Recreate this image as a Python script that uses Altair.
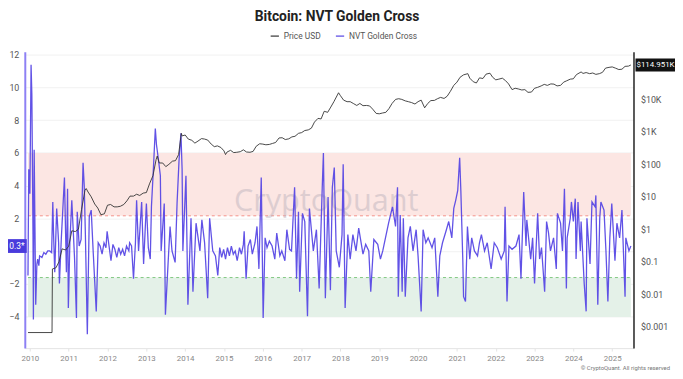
import altair as alt
import pandas as pd

# ---------------- data ----------------
nvt_years = [
    2009.95, 2009.97, 2010.00, 2010.03, 2010.05, 2010.08, 2010.09, 2010.11, 2010.13, 2010.15,
    2010.18, 2010.20, 2010.23, 2010.25, 2010.31, 2010.36, 2010.41, 2010.46, 2010.51, 2010.56,
    2010.59, 2010.61, 2010.64, 2010.69, 2010.74, 2010.76, 2010.81, 2010.89, 2010.92, 2010.94,
    2010.97, 2010.99, 2011.03, 2011.08, 2011.15, 2011.20, 2011.22, 2011.27, 2011.32, 2011.37,
    2011.40, 2011.43, 2011.48, 2011.53, 2011.58, 2011.63, 2011.71, 2011.76, 2011.81, 2011.86,
    2011.91, 2011.96, 2011.99, 2012.04, 2012.09, 2012.14, 2012.19, 2012.24, 2012.29, 2012.34,
    2012.39, 2012.44, 2012.49, 2012.55, 2012.57, 2012.62, 2012.67, 2012.72, 2012.75, 2012.80,
    2012.88, 2012.93, 2013.00, 2013.05, 2013.10, 2013.13, 2013.18, 2013.23, 2013.26, 2013.31,
    2013.36, 2013.38, 2013.46, 2013.49, 2013.56, 2013.61, 2013.66, 2013.74, 2013.79, 2013.84,
    2013.89, 2013.92, 2013.94, 2014.02, 2014.07, 2014.15, 2014.20, 2014.28, 2014.38, 2014.43,
    2014.50, 2014.58, 2014.63, 2014.71, 2014.78, 2014.84, 2014.89, 2014.94, 2014.99, 2015.04,
    2015.09, 2015.14, 2015.19, 2015.24, 2015.29, 2015.34, 2015.40, 2015.45, 2015.50, 2015.52,
    2015.57, 2015.62, 2015.68, 2015.73, 2015.80, 2015.85, 2015.90, 2015.96, 2016.01, 2016.06,
    2016.11, 2016.17, 2016.24, 2016.31, 2016.36, 2016.44, 2016.49, 2016.57, 2016.62, 2016.69,
    2016.74, 2016.82, 2016.87, 2016.92, 2016.95, 2017.02, 2017.08, 2017.15, 2017.20, 2017.30,
    2017.38, 2017.45, 2017.53, 2017.56, 2017.61, 2017.68, 2017.74, 2017.79, 2017.84, 2017.89,
    2017.97, 2018.04, 2018.07, 2018.12, 2018.19, 2018.25, 2018.32, 2018.40, 2018.47, 2018.58,
    2018.65, 2018.73, 2018.78, 2018.86, 2018.96, 2019.03, 2019.09, 2019.16, 2019.24, 2019.34,
    2019.42, 2019.47, 2019.49, 2019.54, 2019.59, 2019.62, 2019.67, 2019.74, 2019.80, 2019.87,
    2019.95, 2020.00, 2020.08, 2020.13, 2020.20, 2020.26, 2020.36, 2020.43, 2020.51, 2020.56,
    2020.63, 2020.73, 2020.79, 2020.87, 2020.92, 2020.97, 2021.02, 2021.07, 2021.10, 2021.15,
    2021.17, 2021.22, 2021.27, 2021.33, 2021.38, 2021.45, 2021.53, 2021.58, 2021.63, 2021.71,
    2021.78, 2021.88, 2021.96, 2022.04, 2022.14, 2022.22, 2022.24, 2022.29, 2022.34, 2022.42,
    2022.52, 2022.60, 2022.65, 2022.72, 2022.78, 2022.80, 2022.90, 2022.95, 2023.00, 2023.08,
    2023.13, 2023.18, 2023.26, 2023.31, 2023.36, 2023.41, 2023.49, 2023.56, 2023.59, 2023.67,
    2023.72, 2023.77, 2023.82, 2023.84, 2023.92, 2023.95, 2024.00, 2024.05, 2024.07, 2024.12,
    2024.18, 2024.20, 2024.28, 2024.33, 2024.35, 2024.43, 2024.48, 2024.56, 2024.58, 2024.63,
    2024.68, 2024.71, 2024.79, 2024.84, 2024.89, 2024.94, 2024.99, 2025.07, 2025.12, 2025.19,
    2025.25, 2025.33, 2025.35, 2025.43, 2025.48,
]
nvt_values = [
    -1.5, 5.0, 3.5, 11.4, 9.6, 1.0, -4.2, 6.2, 1.5, -3.3,
    -0.8, -0.5, -0.9, -0.3, -0.4, -0.1, -0.2, 0.0, 0.0, -0.1,
    3.0, 1.0, -1.3, 2.6, 0.5, -2.0, 0.8, 4.5, 1.0, -1.3,
    3.8, -3.5, 0.5, 3.1, -0.4, -4.1, 2.4, 0.3, 0.7, 5.4,
    4.0, 1.0, -5.1, 2.1, 2.5, 0.0, -3.7, 0.5, 0.3, -0.2,
    0.5, 0.2, 1.2, 0.3, -0.6, 0.4, 0.1, -0.4, 0.2, -0.2,
    0.1, -0.3, 0.3, 0.0, 0.5, 0.3, -1.7, 0.5, 3.1, 0.0,
    3.0, -0.8, 2.9, 0.2, -0.5, 2.7, 5.0, 7.5, 6.5, 5.6,
    4.6, 0.0, 2.9, -3.9, -0.7, 1.5, 0.0, -0.7, 2.9, 5.5,
    7.2, 5.0, 0.0, 4.6, -3.3, 2.0, -2.5, 1.7, 0.0, 1.9,
    0.5, -2.9, 2.0, 0.0, -0.3, -1.5, 0.2, -0.4, 0.1, -0.5,
    0.2, -0.3, 0.3, -0.2, 0.0, -0.6, 0.2, -0.2, 0.4, 1.2,
    -1.7, 0.3, 0.7, -0.2, 0.5, 1.5, -1.1, 4.5, -4.1, 0.8,
    0.2, 0.6, 0.3, -0.5, 1.1, -0.3, 0.0, -0.6, 1.3, 0.1,
    0.0, 3.9, -1.7, 2.4, -2.5, 2.3, 1.8, -4.0, 2.6, 0.0,
    1.3, -2.3, 3.9, 6.0, -2.9, 3.3, -2.4, 3.9, 5.1, 0.0,
    -1.0, 1.0, 5.3, -3.5, 1.0, -0.5, 1.0, 0.0, 1.4, -0.2,
    0.4, 0.0, -2.5, 0.7, 0.4, -0.5, 0.0, 0.8, 1.7, 2.7,
    1.5, 3.9, -2.8, 2.2, -2.5, 2.0, -2.8, 0.8, 1.5, 0.0,
    1.3, -0.3, -3.7, 1.3, 0.5, 0.8, 0.2, 0.8, -2.8, -0.3,
    0.5, 1.3, 1.8, 0.8, 2.6, 3.1, 3.7, 5.7, 3.7, -0.5,
    -2.8, -3.1, 1.5, -0.5, 0.8, 0.0, -0.3, 0.5, 1.0, 0.0,
    0.5, -1.1, 0.5, 0.2, -0.5, 0.0, 2.7, -3.1, 0.3, 0.1,
    0.3, 1.0, -1.7, 3.6, 0.3, 1.9, -0.5, 0.8, -2.0, 2.3,
    -0.5, 0.2, -2.5, 1.8, 1.1, 0.0, 0.8, -1.1, 2.3, 1.7,
    0.0, 3.8, -2.3, 0.8, 2.0, 3.0, 1.8, 3.2, -0.5, 3.0,
    0.0, 1.8, -2.0, -3.7, 2.0, -0.8, 3.0, 2.7, 3.4, -3.3,
    2.0, 3.0, 2.5, 0.0, -3.1, 0.8, 2.9, -0.6, 1.7, 0.8,
    2.5, -2.8, 0.8, 0.0, 0.3,
]

price_years = [
    2009.95, 2010.57, 2010.58, 2010.67, 2010.75, 2010.83, 2010.92,
    2011.00, 2011.08, 2011.17, 2011.25, 2011.33, 2011.42, 2011.45, 2011.50, 2011.58, 2011.67, 2011.75, 2011.83, 2011.92,
    2012.00, 2012.08, 2012.17, 2012.25, 2012.33, 2012.42, 2012.50, 2012.58, 2012.67, 2012.75, 2012.83, 2012.92,
    2013.00, 2013.08, 2013.17, 2013.25, 2013.28, 2013.33, 2013.42, 2013.50, 2013.58, 2013.67, 2013.75, 2013.83, 2013.90, 2013.92,
    2014.00, 2014.08, 2014.17, 2014.25, 2014.33, 2014.42, 2014.50, 2014.58, 2014.67, 2014.75, 2014.83, 2014.92,
    2015.00, 2015.04, 2015.08, 2015.17, 2015.25, 2015.33, 2015.42, 2015.50, 2015.58, 2015.67, 2015.75, 2015.83, 2015.92,
    2016.00, 2016.08, 2016.17, 2016.25, 2016.33, 2016.42, 2016.50, 2016.58, 2016.67, 2016.75, 2016.83, 2016.92,
    2017.00, 2017.08, 2017.17, 2017.25, 2017.33, 2017.42, 2017.50, 2017.58, 2017.67, 2017.75, 2017.83, 2017.95,
    2018.00, 2018.08, 2018.17, 2018.25, 2018.33, 2018.42, 2018.50, 2018.58, 2018.67, 2018.75, 2018.83, 2018.92,
    2019.00, 2019.08, 2019.17, 2019.25, 2019.33, 2019.42, 2019.50, 2019.58, 2019.67, 2019.75, 2019.83, 2019.92,
    2020.00, 2020.08, 2020.17, 2020.25, 2020.33, 2020.42, 2020.50, 2020.58, 2020.67, 2020.75, 2020.83, 2020.92,
    2021.00, 2021.08, 2021.17, 2021.28, 2021.33, 2021.42, 2021.50, 2021.58, 2021.67, 2021.75, 2021.85, 2021.92,
    2022.00, 2022.08, 2022.17, 2022.25, 2022.33, 2022.42, 2022.50, 2022.58, 2022.67, 2022.75, 2022.83, 2022.92,
    2023.00, 2023.08, 2023.17, 2023.25, 2023.33, 2023.42, 2023.50, 2023.58, 2023.67, 2023.75, 2023.83, 2023.92,
    2024.00, 2024.08, 2024.20, 2024.25, 2024.33, 2024.42, 2024.50, 2024.58, 2024.67, 2024.75, 2024.83, 2024.92,
    2025.00, 2025.08, 2025.17, 2025.25, 2025.33, 2025.42, 2025.48,
]
price_values = [
    0.00066, 0.00066, 0.06, 0.065, 0.1, 0.25, 0.23,
    0.30, 0.9, 0.85, 1.0, 4.0, 16.0, 18.0, 14.0, 10.0, 6.0, 4.5, 2.8, 3.0,
    5.5, 5.8, 4.9, 4.9, 5.1, 5.8, 7.5, 10.5, 10.5, 12.0, 11.0, 13.0,
    13.5, 25, 45, 140, 180, 110, 110, 85, 100, 125, 130, 200, 900, 750,
    800, 600, 550, 450, 520, 620, 600, 560, 420, 350, 370, 330,
    260, 200, 240, 270, 230, 235, 245, 280, 240, 235, 250, 360, 430,
    420, 400, 410, 440, 470, 650, 660, 580, 610, 700, 730, 900,
    950, 1100, 1150, 1300, 2000, 2600, 2500, 4300, 4000, 5800, 8500, 16000,
    13000, 9500, 8500, 8500, 7500, 6500, 7500, 6400, 6500, 6300, 5000, 3700,
    3600, 3800, 4000, 5200, 7500, 10000, 10500, 10000, 9000, 8500, 8000, 7200,
    8500, 9500, 5500, 7500, 9200, 9300, 10500, 11500, 10700, 12500, 17500, 27000,
    34000, 48000, 57000, 62000, 45000, 35000, 32000, 46000, 44000, 60000, 64000, 48000,
    40000, 42000, 45000, 38000, 30000, 20000, 22000, 21000, 19500, 20000, 16500, 16800,
    22000, 23500, 26000, 29000, 27000, 30000, 29500, 26000, 27000, 34000, 37500, 42000,
    43000, 58000, 70000, 63000, 67000, 62000, 65000, 59000, 62000, 68000, 92000, 97000,
    100000, 92000, 83000, 85000, 104000, 106000, 114951,
]

year_ticks = list(range(2010, 2026))
nvt_ticks = [-4, -2, 0, 2, 4, 6, 8, 10, 12]
price_ticks = [0.001, 0.01, 0.1, 1, 10, 100, 1000, 10000]
upper_zone = [2.15, 6.0]      # overheated band (dashed line at the lower edge)
lower_zone = [-4.05, -1.63]   # undervalued band (dashed line at the upper edge)
last_nvt = 0.3
last_nvt_label = "0.3*"
last_price = 114951
last_price_label = "$114.951K"
series_names = ["Price USD", "NVT Golden Cross"]
series_colors = ["#333333", "#5443e4"]

# ---------------- build tables ----------------
def to_dt(y):
    yr = int(y // 1)
    return pd.Timestamp(year=yr, month=1, day=1) + pd.Timedelta(days=(y - yr) * 365.25)

nvt_df = pd.DataFrame({"date": [to_dt(y) for y in nvt_years], "value": nvt_values,
                       "series": series_names[1]})
price_df = pd.DataFrame({"date": [to_dt(y) for y in price_years], "value": price_values,
                         "series": series_names[0]})

band_start = nvt_df["date"].min()
band_end = nvt_df["date"].max()
upper_df = pd.DataFrame({"start": [band_start], "end": [band_end], "lo": [upper_zone[0]], "hi": [upper_zone[1]]})
lower_df = pd.DataFrame({"start": [band_start], "end": [band_end], "lo": [lower_zone[0]], "hi": [lower_zone[1]]})
nvt_mark_df = pd.DataFrame({"value": [last_nvt], "label": [last_nvt_label]})
price_mark_df = pd.DataFrame({"value": [last_price], "label": [last_price_label]})

x_scale = alt.Scale(domain=[alt.DateTime(year=2009, month=11, date=14),
                            alt.DateTime(year=2025, month=7, date=20)], nice=False)
x_axis = alt.Axis(values=[alt.DateTime(year=y, month=1, date=1) for y in year_ticks],
                  format="%Y", labelFontSize=8, labelColor="#888888", labelFont="Roboto",
                  grid=False, domainColor="#e4e4e4", tickColor="#e4e4e4", tickSize=3,
                  labelPadding=4)
nvt_scale = alt.Scale(domain=[-5.95, 12.2], nice=False, zero=False)
price_scale = alt.Scale(type="log", domain=[0.000219, 295000], nice=False)

# the "0" label sits under the current-value box in the reference
nvt_axis = alt.Axis(orient="left", values=nvt_ticks, labelFontSize=9, labelColor="#555555",
                    labelFont="Roboto", ticks=False, labelPadding=6, domainColor="#8d80f4",
                    domainWidth=2, grid=True, gridColor="#f1f1f1",
                    labelExpr="datum.value == 0 ? '' : datum.label")
price_axis = alt.Axis(orient="right", values=price_ticks, labelFontSize=9, labelColor="#555555",
                      labelFont="Roboto", ticks=False, labelPadding=7, domainColor="#222222",
                      domainWidth=1.5, grid=False,
                      labelExpr="datum.value >= 1000 ? '$' + (datum.value/1000) + 'K' : '$' + datum.value")

color_enc = alt.Color("series:N", scale=alt.Scale(domain=series_names, range=series_colors),
                      legend=alt.Legend(orient="none", legendX=248, legendY=-21, direction="horizontal",
                                        title=None, symbolType="stroke", symbolSize=70,
                                        symbolStrokeWidth=1.3, labelFontSize=8.5, labelColor="#555555",
                                        labelFont="Roboto", columnPadding=12))

def band(df, color):
    return alt.Chart(df).mark_rect(color=color).encode(
        x=alt.X("start:T", scale=x_scale, axis=x_axis, title=None), x2="end:T",
        y=alt.Y("lo:Q", scale=nvt_scale, axis=nvt_axis, title=None), y2="hi:Q")

def dashed(df, field, color):
    return alt.Chart(df).mark_rule(color=color, strokeDash=[3, 3], strokeWidth=1).encode(
        x=alt.X("start:T", scale=x_scale, axis=x_axis, title=None), x2="end:T",
        y=alt.Y(f"{field}:Q", scale=nvt_scale, axis=nvt_axis, title=None))

upper_band = band(upper_df, "#fce6e3")
lower_band = band(lower_df, "#e4f1e8")
upper_rule = dashed(upper_df, "lo", "#f39188")
lower_rule = dashed(lower_df, "hi", "#7fc77f")

watermark = alt.Chart(pd.DataFrame({"t": ["CryptoQuant"]})).mark_text(
    fontSize=31, font="Open Sans", color="#b9b0bb", opacity=0.45).encode(
    text="t:N", x=alt.value(305), y=alt.value(152))

copyright_txt = alt.Chart(pd.DataFrame({"t": ["\u00a9 CryptoQuant. All rights reserved"]})).mark_text(
    fontSize=6, font="Roboto", color="#777777", align="right", baseline="bottom").encode(
    text="t:N", x=alt.value(653), y=alt.value(323))

nvt_line = alt.Chart(nvt_df).mark_line(strokeWidth=1.3, opacity=0.92).encode(
    x=alt.X("date:T", scale=x_scale, axis=x_axis, title=None),
    y=alt.Y("value:Q", scale=nvt_scale, axis=nvt_axis, title=None),
    color=color_enc)

box_small = "M-1,-0.7L1,-0.7L1,0.7L-1,0.7Z"
nvt_box = alt.Chart(nvt_mark_df).mark_point(shape=box_small, size=400, filled=True,
                                             color="#4a3bdc", opacity=1, strokeWidth=0).encode(
    x=alt.value(-8), y=alt.Y("value:Q", scale=nvt_scale, axis=nvt_axis, title=None))
nvt_box_text = alt.Chart(nvt_mark_df).mark_text(color="white", fontSize=8.5, font="Roboto").encode(
    x=alt.value(-8), y=alt.Y("value:Q", scale=nvt_scale, axis=nvt_axis, title=None), text="label:N")

price_line = alt.Chart(price_df).mark_line(strokeWidth=0.9).encode(
    x=alt.X("date:T", scale=x_scale, axis=x_axis, title=None),
    y=alt.Y("value:Q", scale=price_scale, axis=price_axis, title=None),
    color=color_enc)

box_wide = "M-1,-0.31L1,-0.31L1,0.31L-1,0.31Z"
price_box = alt.Chart(price_mark_df).mark_point(shape=box_wide, size=1764, filled=True,
                                                 color="#111111", opacity=1, strokeWidth=0).encode(
    x=alt.value(639), y=alt.Y("value:Q", scale=price_scale, axis=price_axis, title=None))
price_box_text = alt.Chart(price_mark_df).mark_text(color="white", fontSize=8, font="Roboto",
                                                     align="left").encode(
    x=alt.value(619), y=alt.Y("value:Q", scale=price_scale, axis=price_axis, title=None), text="label:N")

left = alt.layer(upper_band, lower_band, upper_rule, lower_rule, watermark, copyright_txt,
                 nvt_line, nvt_box, nvt_box_text)
right = alt.layer(price_line, price_box, price_box_text)

chart = alt.layer(left, right).resolve_scale(y="independent").properties(
    width=616, height=300,
    autosize=alt.AutoSizeParams(type="none"),
    padding={"left": 17, "top": 42, "right": 42, "bottom": 23},
    title=alt.TitleParams("Bitcoin: NVT Golden Cross", fontSize=14, fontWeight="bold",
                          font="Roboto", color="#222222", anchor="middle", dx=8, offset=7),
).configure_view(stroke=None)

chart.save("out.html", embed_options={"renderer": "svg", "actions": False})
